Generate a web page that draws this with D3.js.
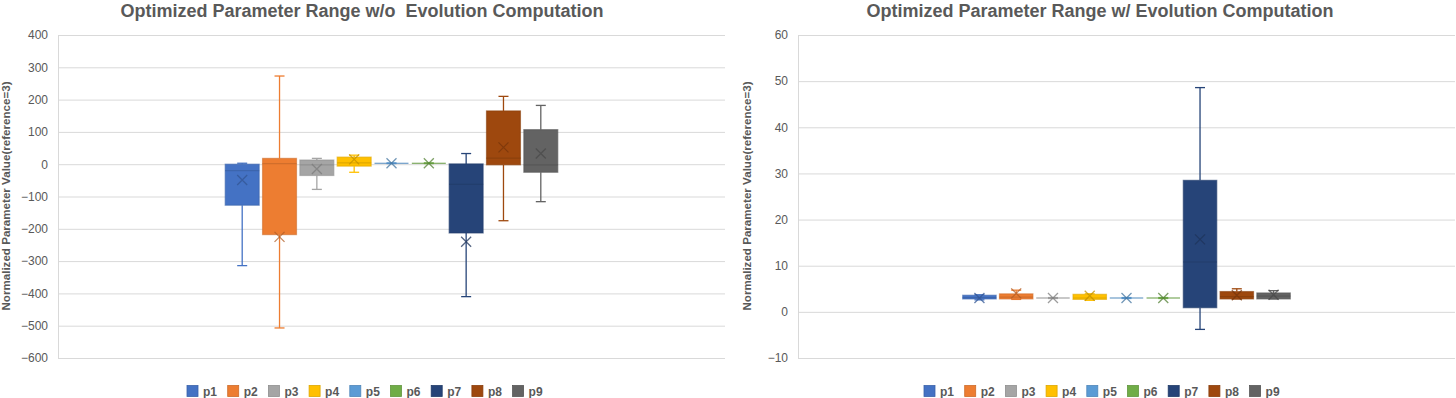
<!DOCTYPE html>
<html>
<head>
<meta charset="utf-8">
<script src="https://cdn.jsdelivr.net/npm/d3@7"></script>
<style>
  body { margin: 0; background: #fff; }
  svg { display: block; font-family: "Liberation Sans", Arial, sans-serif; }
</style>
</head>
<body>
<svg id="chart" width="1456" height="398"></svg>
<script>
// series names and colours
const series = ['p1', 'p2', 'p3', 'p4', 'p5', 'p6', 'p7', 'p8', 'p9'];
const colors = ['#4472C4', '#ED7D31', '#A5A5A5', '#FFC000', '#5B9BD5', '#70AD47', '#264478', '#9E480E', '#636363'];

// left chart: without evolution computation
const woMin    = [-314, -507, -78, -25, 2, 2, -410, -175, -116];
const woQ1     = [-127, -218, -35, -6, 3, 3, -213, -2, -25];
const woMedian = [-20, 2, -2, 4, 3, 3, -62, 19, -2];
const woQ3     = [0, 18, 13, 22, 3, 3, 1, 165, 107];
const woMax    = [3, 273, 18, 28, 4, 4, 33, 210, 182];
const woMean   = [-49, -225, -15, 15, 3, 3, -240, 52, 33];
const woTicks  = [-600, -500, -400, -300, -200, -100, 0, 100, 200, 300, 400];

// right chart: with evolution computation
const wMin    = [2.6, 2.7, 2.9, 2.5, 2.9, 2.9, -3.8, 2.8, 2.8];
const wQ1     = [2.8, 2.8, 3.0, 2.7, 3.0, 3.0, 0.9, 2.8, 2.8];
const wMedian = [3.1, 3.2, 3.0, 3.0, 3.0, 3.0, 10.8, 3.3, 3.4];
const wQ3     = [3.6, 3.9, 3.0, 3.8, 3.0, 3.0, 28.5, 4.4, 4.1];
const wMax    = [3.7, 4.7, 3.1, 3.9, 3.1, 3.1, 48.6, 5.0, 4.6];
const wMean   = [3.0, 4.0, 3.0, 3.5, 3.0, 3.0, 15.7, 3.6, 3.7];
const wTicks  = [-10, 0, 10, 20, 30, 40, 50, 60];

const svg = d3.select('#chart');
const textColor = '#595959';

function drawChart(cfg) {
    let g = svg.append('g');

    let x = d3.scaleBand()
        .domain(series)
        .range([cfg.left, cfg.right])
        .paddingInner(0.09)
        .paddingOuter(4.48);

    let y = d3.scaleLinear()
        .domain(d3.extent(cfg.ticks))
        .range([358, 35]);

    // title
    g.append('text')
        .attr('x', cfg.center)
        .attr('y', 17)
        .attr('text-anchor', 'middle')
        .attr('fill', textColor)
        .attr('font-size', 18)
        .attr('font-weight', 'bold')
        .attr('xml:space', 'preserve')
        .text(cfg.title);

    // gridlines + y axis
    let axis = g.append('g')
        .attr('transform', 'translate(' + cfg.left + ',0)')
        .call(d3.axisLeft(y).tickValues(cfg.ticks).tickSize(-(cfg.right - cfg.left)).tickPadding(10));
    axis.select('.domain').attr('stroke', '#D9D9D9');
    axis.selectAll('.tick line').attr('stroke', '#D9D9D9');
    axis.selectAll('.tick text')
        .attr('fill', textColor)
        .attr('font-size', 12)
        .attr('font-family', '"Liberation Sans", Arial, sans-serif');

    // y axis title
    g.append('text')
        .attr('transform', 'translate(' + cfg.titleX + ',196) rotate(-90)')
        .attr('text-anchor', 'middle')
        .attr('fill', textColor)
        .attr('font-size', 11.6)
        .attr('font-weight', 'bold')
        .text('Normalized Parameter Value(reference=3)');

    let bw = x.bandwidth();
    let cap = 10;

    series.forEach((s, i) => {
        let c = colors[i];
        let dark = d3.color(c).darker(0.35).formatHex();
        let cx = x(s) + bw / 2;
        let box = g.append('g');

        // whiskers
        box.append('line')
            .attr('x1', cx).attr('x2', cx)
            .attr('y1', y(cfg.max[i])).attr('y2', y(cfg.q3[i]))
            .attr('stroke', c).attr('stroke-width', 1.3);
        box.append('line')
            .attr('x1', cx).attr('x2', cx)
            .attr('y1', y(cfg.q1[i])).attr('y2', y(cfg.min[i]))
            .attr('stroke', c).attr('stroke-width', 1.3);
        [cfg.max[i], cfg.min[i]].forEach(v => {
            box.append('line')
                .attr('x1', cx - cap / 2).attr('x2', cx + cap / 2)
                .attr('y1', y(v)).attr('y2', y(v))
                .attr('stroke', c).attr('stroke-width', 1.3);
        });

        // box
        box.append('rect')
            .attr('x', x(s))
            .attr('width', bw)
            .attr('y', y(cfg.q3[i]))
            .attr('height', Math.max(0, y(cfg.q1[i]) - y(cfg.q3[i])))
            .attr('fill', c)
            .attr('stroke', dark)
            .attr('stroke-opacity', 0.6)
            .attr('stroke-width', 1.2);

        // median
        box.append('line')
            .attr('x1', x(s)).attr('x2', x(s) + bw)
            .attr('y1', y(cfg.median[i])).attr('y2', y(cfg.median[i]))
            .attr('stroke', dark).attr('stroke-width', 1.2);

        // mean marker
        let my = y(cfg.mean[i]);
        let r = 5;
        box.append('path')
            .attr('d', `M${cx - r},${my - r}L${cx + r},${my + r}M${cx - r},${my + r}L${cx + r},${my - r}`)
            .attr('stroke', d3.color(c).darker(0.8).formatHex())
            .attr('stroke-opacity', 0.75)
            .attr('stroke-width', 1.3)
            .attr('fill', 'none');
    });

    // legend
    let step = 40.7;
    let legend = g.append('g')
        .attr('transform', 'translate(' + cfg.legendX + ',385.5)');
    series.forEach((s, i) => {
        let item = legend.append('g').attr('transform', 'translate(' + (i * step) + ',0)');
        item.append('rect')
            .attr('width', 11).attr('height', 11)
            .attr('fill', colors[i])
            .attr('stroke', d3.color(colors[i]).darker(0.4).formatHex())
            .attr('stroke-width', 0.8);
        item.append('text')
            .attr('x', 16).attr('y', 10)
            .attr('fill', textColor)
            .attr('font-size', 12)
            .attr('font-weight', 'bold')
            .text(s);
    });
}

drawChart({
    title: 'Optimized Parameter Range w/o  Evolution Computation',
    left: 58, right: 725, center: 362, titleX: 10, legendX: 187,
    ticks: woTicks,
    min: woMin, q1: woQ1, median: woMedian, q3: woQ3, max: woMax, mean: woMean
});

drawChart({
    title: 'Optimized Parameter Range w/ Evolution Computation',
    left: 798, right: 1455, center: 1100, titleX: 751, legendX: 924,
    ticks: wTicks,
    min: wMin, q1: wQ1, median: wMedian, q3: wQ3, max: wMax, mean: wMean
});
</script>
</body>
</html>
